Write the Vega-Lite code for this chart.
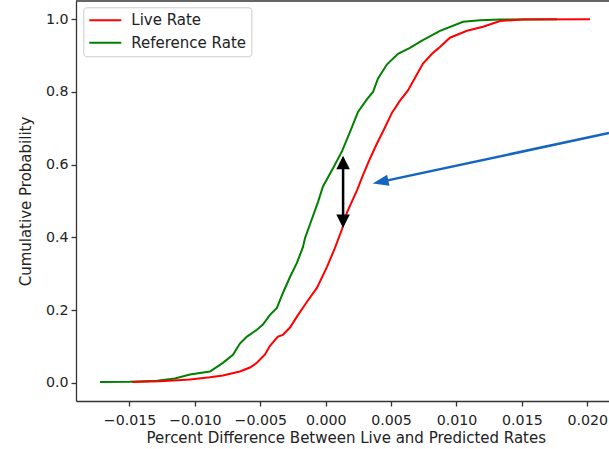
{
  "$schema": "https://vega.github.io/schema/vega-lite/v6.json",
  "width": 533,
  "height": 400,
  "autosize": {"type": "none"},
  "padding": {"left": 76, "top": 1, "right": 0, "bottom": 48},
  "background": "white",
  "config": {
    "font": "DejaVu Sans",
    "view": {"stroke": null},
    "axis": {
      "grid": false,
      "domainColor": "#333333",
      "domainWidth": 1.3,
      "tickColor": "#333333",
      "tickWidth": 1.3,
      "tickSize": 5,
      "labelFontSize": 14.2,
      "labelColor": "#222222",
      "labelPadding": 3,
      "titleFontSize": 15,
      "titleFontWeight": "normal",
      "titleColor": "#222222"
    },
    "legend": {
      "labelFontSize": 15,
      "labelColor": "#222222"
    }
  },
  "datasets": {
    "cdf": [
      {"series": "Reference Rate", "x": -0.01726, "p": 0.002},
      {"series": "Reference Rate", "x": -0.01496, "p": 0.003},
      {"series": "Reference Rate", "x": -0.0129, "p": 0.006},
      {"series": "Reference Rate", "x": -0.01153, "p": 0.012},
      {"series": "Reference Rate", "x": -0.01038, "p": 0.023},
      {"series": "Reference Rate", "x": -0.00885, "p": 0.031},
      {"series": "Reference Rate", "x": -0.00786, "p": 0.055},
      {"series": "Reference Rate", "x": -0.00709, "p": 0.077},
      {"series": "Reference Rate", "x": -0.00656, "p": 0.108},
      {"series": "Reference Rate", "x": -0.00602, "p": 0.127},
      {"series": "Reference Rate", "x": -0.00526, "p": 0.146},
      {"series": "Reference Rate", "x": -0.0048, "p": 0.16},
      {"series": "Reference Rate", "x": -0.00426, "p": 0.187},
      {"series": "Reference Rate", "x": -0.00373, "p": 0.206},
      {"series": "Reference Rate", "x": -0.00327, "p": 0.247},
      {"series": "Reference Rate", "x": -0.00273, "p": 0.291},
      {"series": "Reference Rate", "x": -0.0022, "p": 0.33},
      {"series": "Reference Rate", "x": -0.00174, "p": 0.373},
      {"series": "Reference Rate", "x": -0.00158, "p": 0.398},
      {"series": "Reference Rate", "x": -0.0012, "p": 0.436},
      {"series": "Reference Rate", "x": -0.00059, "p": 0.497},
      {"series": "Reference Rate", "x": -0.00021, "p": 0.54},
      {"series": "Reference Rate", "x": 0.00056, "p": 0.59},
      {"series": "Reference Rate", "x": 0.00125, "p": 0.637},
      {"series": "Reference Rate", "x": 0.00186, "p": 0.69},
      {"series": "Reference Rate", "x": 0.00247, "p": 0.745},
      {"series": "Reference Rate", "x": 0.00316, "p": 0.78},
      {"series": "Reference Rate", "x": 0.00362, "p": 0.8},
      {"series": "Reference Rate", "x": 0.004, "p": 0.837},
      {"series": "Reference Rate", "x": 0.00469, "p": 0.876},
      {"series": "Reference Rate", "x": 0.00553, "p": 0.905},
      {"series": "Reference Rate", "x": 0.00644, "p": 0.921},
      {"series": "Reference Rate", "x": 0.00736, "p": 0.941},
      {"series": "Reference Rate", "x": 0.00874, "p": 0.968},
      {"series": "Reference Rate", "x": 0.0105, "p": 0.993},
      {"series": "Reference Rate", "x": 0.0118, "p": 0.997},
      {"series": "Reference Rate", "x": 0.01333, "p": 0.999},
      {"series": "Reference Rate", "x": 0.01769, "p": 1.0},
      {"series": "Live Rate", "x": -0.0148, "p": 0.002},
      {"series": "Live Rate", "x": -0.01266, "p": 0.004},
      {"series": "Live Rate", "x": -0.01038, "p": 0.009},
      {"series": "Live Rate", "x": -0.00885, "p": 0.015},
      {"series": "Live Rate", "x": -0.00786, "p": 0.02},
      {"series": "Live Rate", "x": -0.00656, "p": 0.031},
      {"series": "Live Rate", "x": -0.00579, "p": 0.042},
      {"series": "Live Rate", "x": -0.00526, "p": 0.055},
      {"series": "Live Rate", "x": -0.00464, "p": 0.078},
      {"series": "Live Rate", "x": -0.00426, "p": 0.102},
      {"series": "Live Rate", "x": -0.00365, "p": 0.127},
      {"series": "Live Rate", "x": -0.00327, "p": 0.132},
      {"series": "Live Rate", "x": -0.00273, "p": 0.152},
      {"series": "Live Rate", "x": -0.0022, "p": 0.182},
      {"series": "Live Rate", "x": -0.00143, "p": 0.223},
      {"series": "Live Rate", "x": -0.00067, "p": 0.261},
      {"series": "Live Rate", "x": 0.0001, "p": 0.319},
      {"series": "Live Rate", "x": 0.00071, "p": 0.371},
      {"series": "Live Rate", "x": 0.00125, "p": 0.423},
      {"series": "Live Rate", "x": 0.00163, "p": 0.469},
      {"series": "Live Rate", "x": 0.0024, "p": 0.53},
      {"series": "Live Rate", "x": 0.00285, "p": 0.571},
      {"series": "Live Rate", "x": 0.00339, "p": 0.617},
      {"series": "Live Rate", "x": 0.00392, "p": 0.658},
      {"series": "Live Rate", "x": 0.00453, "p": 0.702},
      {"series": "Live Rate", "x": 0.00507, "p": 0.743},
      {"series": "Live Rate", "x": 0.00568, "p": 0.776},
      {"series": "Live Rate", "x": 0.00629, "p": 0.804},
      {"series": "Live Rate", "x": 0.00683, "p": 0.839},
      {"series": "Live Rate", "x": 0.00744, "p": 0.878},
      {"series": "Live Rate", "x": 0.00813, "p": 0.905},
      {"series": "Live Rate", "x": 0.00859, "p": 0.919},
      {"series": "Live Rate", "x": 0.0095, "p": 0.949},
      {"series": "Live Rate", "x": 0.0108, "p": 0.968},
      {"series": "Live Rate", "x": 0.01203, "p": 0.979},
      {"series": "Live Rate", "x": 0.01333, "p": 0.995},
      {"series": "Live Rate", "x": 0.01509, "p": 0.999},
      {"series": "Live Rate", "x": 0.02021, "p": 1.0}
    ],
    "topEdge": [{"x": -0.01909, "x2": 0.02166, "p": 1.05}],
    "gapShaft": [{"x": 0.00133, "from": 0.606, "to": 0.444}],
    "gapHeads": [
      {"x": 0.00133, "p": 0.606, "dir": "up"},
      {"x": 0.00133, "p": 0.444, "dir": "down"}
    ],
    "pointerShaft": [{"x": 0.00419, "p": 0.5526, "x2": 0.02166, "p2": 0.687}],
    "pointerHead": [{"x": 0.00419, "p": 0.5526}]
  },
  "layer": [
    {
      "data": {"name": "cdf"},
      "mark": {"type": "line", "strokeWidth": 2},
      "encoding": {
        "x": {
          "field": "x",
          "type": "quantitative",
          "scale": {"domain": [-0.01909, 0.02166], "nice": false, "zero": false},
          "axis": {
            "orient": "bottom",
            "values": [-0.015, -0.01, -0.005, 0, 0.005, 0.01, 0.015, 0.02],
            "labelExpr": "replace(format(datum.value, '.3f'), '-', '−')",
            "labelPadding": 7,
            "title": "Percent Difference Between Live and Predicted Rates",
            "titleX": 269.8,
            "titlePadding": 3
          }
        },
        "y": {
          "field": "p",
          "type": "quantitative",
          "scale": {"domain": [-0.05, 1.05], "nice": false, "zero": false},
          "axis": {
            "values": [0, 0.2, 0.4, 0.6, 0.8, 1.0],
            "format": ".1f",
            "title": "Cumulative Probability",
            "titlePadding": 12
          }
        },
        "color": {
          "field": "series",
          "type": "nominal",
          "scale": {"domain": ["Live Rate", "Reference Rate"], "range": ["#ff0000", "#008000"]},
          "legend": {
            "title": null,
            "orient": "none",
            "legendX": 7.3,
            "legendY": 6.3,
            "fillColor": "rgba(255,255,255,0.8)",
            "strokeColor": "#cccccc",
            "cornerRadius": 3,
            "padding": 5,
            "symbolType": "stroke",
            "symbolSize": 1024,
            "symbolStrokeWidth": 2,
            "clipHeight": 16,
            "labelOffset": 9,
            "rowPadding": 6.4
          }
        }
      }
    },
    {
      "data": {"name": "topEdge"},
      "mark": {"type": "rule", "color": "#333333", "strokeWidth": 1.5},
      "encoding": {
        "x": {"field": "x", "type": "quantitative", "axis": null},
        "x2": {"field": "x2"},
        "y": {"field": "p", "type": "quantitative", "axis": null}
      }
    },
    {
      "data": {"name": "gapShaft"},
      "mark": {"type": "rule", "color": "black", "strokeWidth": 2.5},
      "encoding": {
        "x": {"field": "x", "type": "quantitative", "axis": null},
        "y": {"field": "from", "type": "quantitative", "axis": null},
        "y2": {"field": "to"}
      }
    },
    {
      "data": {"name": "gapHeads"},
      "mark": {"type": "point", "filled": true, "opacity": 1, "color": "black", "size": 182, "strokeWidth": 0},
      "encoding": {
        "x": {"field": "x", "type": "quantitative", "axis": null},
        "y": {"field": "p", "type": "quantitative", "axis": null},
        "shape": {
          "field": "dir",
          "type": "nominal",
          "scale": {"domain": ["up", "down"], "range": ["M0,-1L1,1L-1,1Z", "M0,1L1,-1L-1,-1Z"]},
          "legend": null
        }
      }
    },
    {
      "data": {"name": "pointerShaft"},
      "mark": {"type": "rule", "color": "#1565c0", "strokeWidth": 2.5},
      "encoding": {
        "x": {"field": "x", "type": "quantitative", "axis": null},
        "y": {"field": "p", "type": "quantitative", "axis": null},
        "x2": {"field": "x2"},
        "y2": {"field": "p2"}
      }
    },
    {
      "data": {"name": "pointerHead"},
      "mark": {"type": "point", "filled": true, "opacity": 1, "color": "#1565c0", "size": 256, "strokeWidth": 0, "shape": "M0,-1L0.7,1L-0.7,1Z", "angle": 257.9},
      "encoding": {
        "x": {"field": "x", "type": "quantitative", "axis": null},
        "y": {"field": "p", "type": "quantitative", "axis": null}
      }
    }
  ],
  "resolve": {"axis": {"x": "independent", "y": "independent"}}
}
